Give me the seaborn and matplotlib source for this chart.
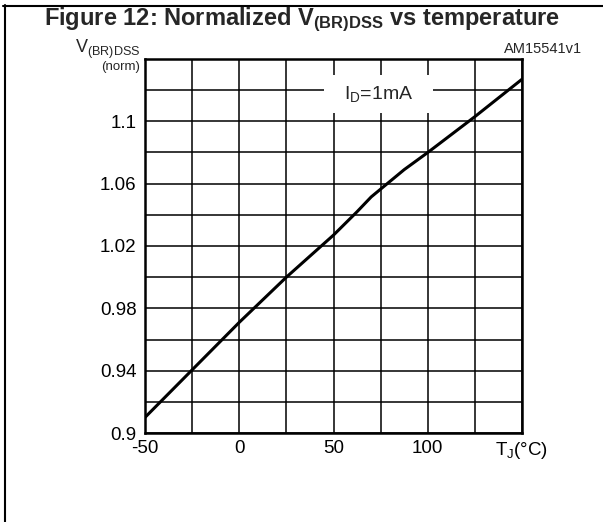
"""
Normalized V(BR)DSS vs junction temperature (datasheet Figure 12).
"""

import matplotlib
matplotlib.use('Agg')
import matplotlib.pyplot as plt
from matplotlib.lines import Line2D
from matplotlib.patches import Rectangle
import seaborn as sns
import numpy as np
import pandas as pd

# curve
temperature = [-50, -25, 0, 25, 50, 62.5, 70, 75, 80, 87.5, 100, 125, 150]
vbr_norm = [0.910, 0.9405, 0.9710, 1.000, 1.027, 1.042, 1.0515, 1.0565, 1.0615, 1.069, 1.080, 1.103, 1.127]

x_ticks = [-50, -25, 0, 25, 50, 75, 100, 125, 150]
x_labels = ['-50', '', '0', '', '50', '', '100', '', r'T$_\mathregular{J}$(°C)']
y_ticks = [0.90, 0.92, 0.94, 0.96, 0.98, 1.00, 1.02, 1.04, 1.06, 1.08, 1.10, 1.12, 1.14]
y_labels = ['0.9', '', '0.94', '', '0.98', '', '1.02', '', '1.06', '', '1.1', '', '']

sns.set_style('white')
plt.rcParams['font.family'] = ['Liberation Sans', 'DejaVu Sans']
plt.rcParams['mathtext.default'] = 'regular'

df = pd.DataFrame({'Tj': temperature, 'V': vbr_norm})

fig = plt.figure(figsize=(6.03, 5.22), dpi=100)
ax = fig.add_axes([145 / 603, 1 - 433 / 522, 377 / 603, 374 / 522])

sns.lineplot(data=df, x='Tj', y='V', ax=ax, color='black', lw=2.2, zorder=5)

ax.set_xlim(-50, 150)
ax.set_ylim(0.9, 1.14)
ax.set_xticks(x_ticks)
ax.set_xticklabels(x_labels)
ax.set_yticks(y_ticks)
ax.set_yticklabels(y_labels)
ax.tick_params(axis='both', length=0, labelsize=13.5, colors='black')
ax.tick_params(axis='x', pad=5)
ax.tick_params(axis='y', pad=6)
ax.set_xlabel('')
ax.set_ylabel('')
ax.grid(True, color='black', lw=1.1)
for sp in ax.spines.values():
    sp.set_visible(True)
    sp.set_color('black')
    sp.set_linewidth(1.8)

# condition label over the grid (white patch hides the grid behind it)
ax.add_patch(Rectangle((0.475, 0.856), 0.289, 0.101, transform=ax.transAxes,
                       facecolor='white', edgecolor='none', zorder=4))
ax.text(0.619, 0.906, r'I$_\mathregular{D}$=1mA', transform=ax.transAxes, fontsize=14,
        ha='center', va='center', zorder=6)

# titles and axis captions
fig.text(302 / 603, 1 - 20 / 522, r'Figure 12: Normalized V$_\mathregular{(BR)DSS}$ vs temperature',
         fontsize=17, fontweight='bold', ha='center', va='center')
fig.text(582 / 603, 1 - 49 / 522, 'AM15541v1', fontsize=10.5, ha='right', va='center')
fig.text(140 / 603, 1 - 49 / 522, r'V$_\mathregular{(BR)DSS}$', fontsize=13, ha='right', va='center')
fig.text(140 / 603, 1 - 67 / 522, '(norm)', fontsize=9.5, ha='right', va='center')

# frame lines at top and left of the figure
fig.add_artist(Line2D([3 / 603, 1], [1 - 5.5 / 522] * 2, transform=fig.transFigure, color='black', lw=1.5))
fig.add_artist(Line2D([4.5 / 603] * 2, [0, 1 - 5 / 522], transform=fig.transFigure, color='black', lw=1.5))

fig.savefig('out.png', dpi=100)
